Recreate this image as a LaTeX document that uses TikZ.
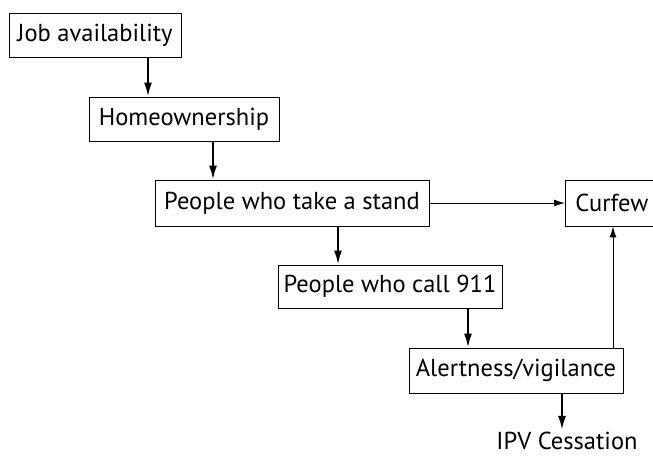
\documentclass[tikz,border=0pt]{standalone}
\usepackage{fontspec}
\setmainfont{PT Sans}
\usetikzlibrary{arrows.meta}
\begin{document}
\begin{tikzpicture}[x=1pt,y=1pt,
  box/.style={draw, line width=0.9pt, inner sep=0pt, font=\fontsize{24.5}{28}\selectfont},
  label/.style={inner sep=0pt, font=\fontsize{24.5}{28}\selectfont},
  strong/.style={line width=2.1pt, -{Latex[length=14pt,width=8pt]}},
  light/.style={line width=1pt, -{Latex[length=11pt,width=7pt]}}]
\useasboundingbox (0,0) rectangle (653,-459);
\clip (0,0) rectangle (653,-459);
% boxes
\node[box, minimum width=172pt, minimum height=44pt] (job) at (95,-35) {Job availability};
\node[box, minimum width=190pt, minimum height=44pt] (home) at (184,-119) {Homeownership};
\node[box, minimum width=274pt, minimum height=46pt] (stand) at (292,-203) {People who take a stand};
\node[box, anchor=west, text width=86pt, inner xsep=10pt, align=left, minimum height=46pt] (curfew) at (565,-203) {Curfew};
\node[box, minimum width=224pt, minimum height=43pt] (call) at (390,-286.5) {People who call 911};
\node[box, minimum width=214pt, minimum height=45pt] (alert) at (516,-370.5) {Alertness/vigilance};
\node[label] (ipv) at (567,-441) {IPV Cessation};
% connector columns
\coordinate (c1) at (148,0);
\coordinate (c2) at (213,0);
\coordinate (c3) at (338,0);
\coordinate (c4) at (468,0);
\coordinate (c5) at (562,0);
\coordinate (c6) at (613,0);
% connectors
\draw[strong] (job.south -| c1) -- (home.north -| c1);
\draw[strong] (home.south -| c2) -- (stand.north -| c2);
\draw[strong] (stand.south -| c3) -- (call.north -| c3);
\draw[strong] (call.south -| c4) -- (alert.north -| c4);
\draw[strong] (alert.south -| c5) -- ([yshift=2pt]ipv.north -| c5);
\draw[light] (stand.east) -- (curfew.west);
\draw[light] (alert.north -| c6) -- (curfew.south -| c6);
\end{tikzpicture}
\end{document}
